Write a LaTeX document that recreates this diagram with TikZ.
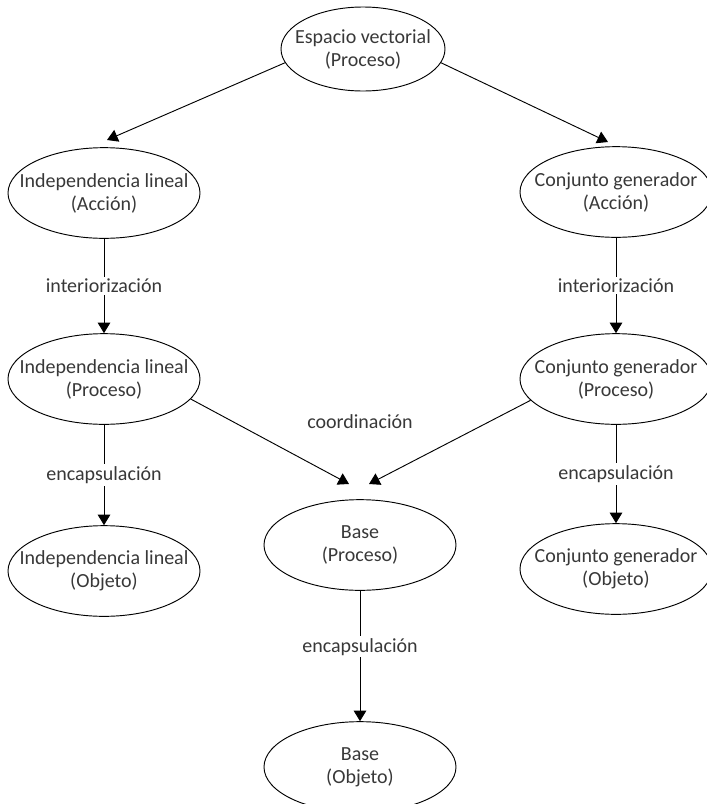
\documentclass[tikz,border=0pt]{standalone}
\usepackage{fontspec}
\setmainfont{Carlito}
\usetikzlibrary{arrows.meta,shapes.geometric}
\begin{document}
\begin{tikzpicture}[x=0.75pt,y=-0.75pt]
	\tikzset{estado/.style={draw,ellipse,line width=0.7pt,minimum width=144pt,minimum height=68pt,inner sep=0pt},
		rotulo/.style={align=center,text=black!78,font=\fontsize{15}{17.25}\selectfont},
		etiqueta/.style={rotulo,fill=white,inner sep=1.5pt},
		flecha/.style={line width=0.7pt,-{Triangle[width=9.5pt,length=8pt]}}}
	\clip (0,0) rectangle (707,804);
	\node [estado,minimum width=123pt,minimum height=63pt] (EV) at (363,49)	{};
		\node [rotulo]	at (EV)		{Espacio vectorial\\(Proceso)};
	\node [estado] (ILa) at (104,193)	{};
		\node [rotulo]	at (ILa)	{Independencia lineal\\(Acción)};
	\node [estado] (CGa) at (616,192)	{};
		\node [rotulo]	at (CGa)	{Conjunto generador\\(Acción)};
	\node [estado] (ILp) at (104,379)	{};
		\node [rotulo]	at (ILp)	{Independencia lineal\\(Proceso)};
	\node [estado] (CGp) at (616,379)	{};
		\node [rotulo]	at (CGp)	{Conjunto generador\\(Proceso)};
	\node [estado] (ILo) at (104,571)	{};
		\node [rotulo]	at (ILo)	{Independencia lineal\\(Objeto)};
	\node [estado] (CGo) at (616,569)	{};
		\node [rotulo]	at (CGo)	{Conjunto generador\\(Objeto)};
	\node [estado] (Bp) at (360,545)	{};
		\node [rotulo]	at (Bp)		{Base\\(Proceso)};
	\node [estado] (Bo) at (360,767)	{};
		\node [rotulo]	at (Bo)		{Base\\(Objeto)};
	\node [rotulo] (coord) at (360,422)	{coordinación};
	% puntas de las flechas oblicuas
	\coordinate (pILa) at (107,140);
	\coordinate (pCGa) at (608,142);
	\coordinate (pBl) at (349,484);
	\coordinate (pBr) at (369,484);
	\draw [flecha] (EV.190) -- (pILa);
	\draw [flecha] (EV.350) -- (pCGa);
	\draw [flecha] (ILa) -- node [etiqueta] {interiorización} (ILp);
	\draw [flecha] (CGa) -- node [etiqueta] {interiorización} (CGp);
	\draw [flecha] (ILp) -- node [etiqueta] {encapsulación} (ILo);
	\draw [flecha] (CGp) -- node [etiqueta] {encapsulación} (CGo);
	\draw [flecha] (ILp.-13) -- (pBl);
	\draw [flecha] (CGp.194) -- (pBr);
	\draw [flecha] (Bp) -- node [etiqueta,pos=.43] {encapsulación} (Bo);
\end{tikzpicture}
\end{document}
